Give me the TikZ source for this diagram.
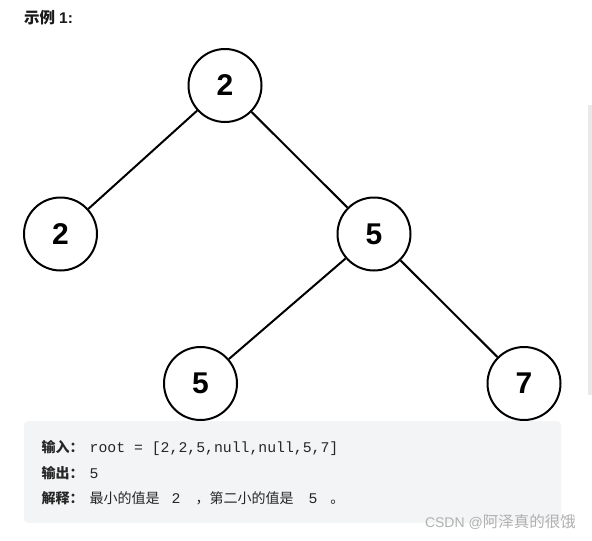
\documentclass[tikz,border=0pt]{standalone}
\usepackage{fontspec}
\setmainfont{Liberation Sans}
\newfontfamily\cjk{Noto Sans CJK SC}
\newfontfamily\codefont{Liberation Mono}
\definecolor{boxgray}{HTML}{F3F4F5}
\definecolor{bargray}{HTML}{E8E9EA}
\definecolor{marktext}{HTML}{B0B0B0}
\newcommand{\cjkb}[1]{{\cjk\bfseries #1}}
\newcommand{\code}[1]{{\codefont\fontsize{14.8}{14.8}\selectfont #1}}

\begin{document}
\begin{tikzpicture}[
  x=1pt, y=-1pt,
  treenode/.style={draw, circle, line width=2pt, minimum size=73pt, inner sep=0pt, font=\fontsize{30}{30}\selectfont\bfseries},
  edge/.style={line width=2pt},
  textline/.style={anchor=base west, inner sep=0pt, text=black!85, font=\fontsize{14}{14}\selectfont}
]
\useasboundingbox (0,0) rectangle (592,541);

% title
\node[textline, text=black!90, font=\fontsize{15.5}{15.5}\selectfont] (title) at (24,23) {\cjkb{示例}\hspace{4pt}\textbf{1:}};

% tree
\node[treenode] (root) at (225,85.5) {2};
\node[treenode] (left) at (60.5,234) {2};
\node[treenode] (right) at (374,234) {5};
\node[treenode] (rleft) at (200.5,383.5) {5};
\node[treenode] (rright) at (524,383.5) {7};

\draw[edge] (root) -- (left);
\draw[edge] (root) -- (right);
\draw[edge] (right) -- (rleft);
\draw[edge] (right) -- (rright);

% example box
\fill[boxgray, rounded corners=4pt] (24,421) rectangle (561,523);
\node[textline] (input) at (41.5,452) {\cjkb{输入：}\hspace{6pt}\code{root = [2,2,5,null,null,5,7]}};
\node[textline] (output) at (41.5,478) {\cjkb{输出：}\hspace{6pt}\code{5}};
\node[textline] (explain) at (41.5,503) {\cjkb{解释：}\hspace{6pt}{\cjk 最小的值是}\hspace{12pt}\code{2}\hspace{15pt}{\cjk ，第二小的值是}\hspace{15pt}\code{5}\hspace{13pt}{\cjk 。}};

% scrollbar and watermark
\fill[bargray] (588,105) rectangle (592,395);
\node[anchor=base east, inner sep=0pt, text=marktext, font=\fontsize{14}{14}\selectfont] (mark) at (576,527) {CSDN @{\cjk\fontsize{15.5}{15.5}\selectfont 阿泽真的很饿}};
\end{tikzpicture}
\end{document}
